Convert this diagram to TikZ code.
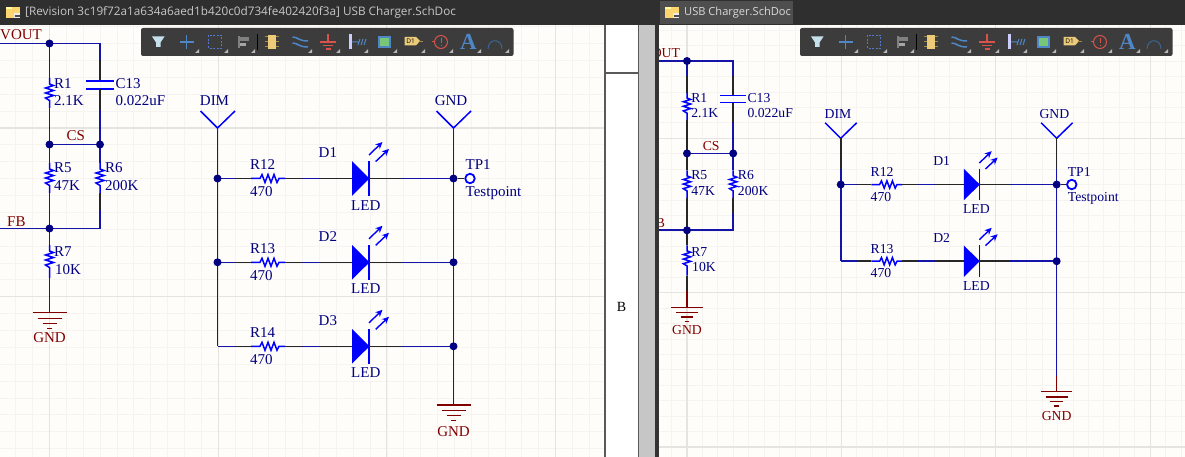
\documentclass[tikz,border=0pt]{standalone}
\usepackage{fontspec}
\setmainfont{Liberation Serif}
\newfontfamily\uifont{Open Sans}
\usetikzlibrary{arrows.meta}
\definecolor{paper}{HTML}{FFFDF9}
\definecolor{barbg}{HTML}{2F2F2F}
\definecolor{tabbg}{HTML}{4E4E4E}
\definecolor{toolbg}{HTML}{3C3C3C}
\definecolor{gridmin}{HTML}{F6F4F0}
\definecolor{gridmaj}{HTML}{E6E4E0}
\definecolor{navy}{HTML}{000080}
\definecolor{wirec}{HTML}{1414A8}
\definecolor{compc}{HTML}{0000FF}
\definecolor{netred}{HTML}{800000}
\definecolor{icoblue}{HTML}{4F86C6}
\definecolor{icodash}{HTML}{5577D0}
\definecolor{icored}{HTML}{D9534A}
\definecolor{icoyel}{HTML}{EBCB7A}
\definecolor{icoedge}{HTML}{A8893F}
\newif\ifthirdrow
\tikzset{
  wire/.style={draw=wirec,line width=1.6pt},
  pin/.style={draw=black!85,line width=1.6pt},
  part/.style={draw=compc,line width=1.5pt},
  redpin/.style={draw=netred,line width=1.6pt},
  dot/.style={circle,fill=navy,draw=none,minimum size=8pt,inner sep=0pt},
  des/.style={anchor=base west,inner sep=0,text=navy},
  net/.style={anchor=base west,inner sep=0,text=netred},
  cnet/.style={anchor=base,inner sep=0,text=netred},
  cdes/.style={anchor=base,inner sep=0,text=navy},
  tool/.style={line width=1.1pt},
  ledarrow/.style={draw=compc,line width=1.4pt,-{Stealth[length=7pt,width=6.5pt]}}
}
\newcommand\vres[3]{% x, ytop, ybottom
  \draw[part] (#1,#2) -- (#1,#2+6) -- (#1+4,#2+7.5) -- (#1-4,#2+10) -- (#1+4,#2+12.5)
    -- (#1-4,#2+15) -- (#1+4,#2+17.5) -- (#1-4,#2+20) -- (#1,#2+22.5) -- (#1,#3);}
\newcommand\hres[3]{% y, xleft, xright
  \draw[part] (#2,#1) -- (#2+9,#1) -- (#2+11,#1-4) -- (#2+14,#1+4) -- (#2+17,#1-4)
    -- (#2+20,#1+4) -- (#2+23,#1-4) -- (#2+26,#1+4) -- (#2+28,#1) -- (#3,#1);}
\newcommand\groundsym[3]{% prefix, x, y of top bar
  \draw[draw=netred,line width=1.4pt] (#2-17,#3) -- (#2+17,#3);
  \draw[draw=netred,line width=1.4pt] (#2-12,#3+5.5) -- (#2+12,#3+5.5);
  \draw[draw=netred,line width=1.4pt] (#2-7,#3+10.5) -- (#2+7,#3+10.5);
  \draw[draw=netred,line width=1.4pt] (#2-2.5,#3+15.5) -- (#2+2.5,#3+15.5);}
\newcommand\ledrow[4]{% prefix, y, R name, D name
  \coordinate (#1a) at (217.5,#2);
  \coordinate (#1p) at (235,#2);
  \coordinate (#1q) at (251,#2);
  \coordinate (#1r) at (285,#2);
  \coordinate (#1s) at (302,#2);
  \coordinate (#1t) at (320,#2);
  \coordinate (#1u) at (352,#2);
  \coordinate (#1v) at (369,#2);
  \coordinate (#1w) at (402,#2);
  \coordinate (#1z) at (453.5,#2);
  \draw[wire] (#1a) -- (#1p);
  \draw[pin] (#1p) -- (#1q);
  \hres{#2}{251}{285}
  \draw[pin] (#1r) -- (#1s);
  \draw[wire] (#1s) -- (#1t);
  \draw[pin] (#1t) -- (#1u);
  \fill[compc] (352,#2-17.3) -- (369.5,#2) -- (352,#2+17.3) -- cycle;
  \draw[part] (369,#2-17.3) -- (369,#2+17.3);
  \draw[pin] (#1v) -- (#1w);
  \draw[wire] (#1w) -- (#1z);
  \draw[ledarrow] (369,#2-23.5) -- (382.5,#2-36.5);
  \draw[ledarrow] (375.7,#2-17) -- (389,#2-29.5);
  \node[des] (#1rn) at (250,#2-8.5) {#3};
  \node[des] (#1rv) at (250,#2+18.2) {470};
  \node[des] (#1dn) at (318.5,#2-20.8) {#4};
  \node[des] (#1dv) at (351,#2+31.5) {LED};
}
\newcommand\schem[1]{% prefix
  \foreach \i in {-4,...,40} \draw[gridmin,line width=.8pt] ({49.5+16.87*\i},-40) -- ({49.5+16.87*\i},520);
  \foreach \j in {-7,...,25} \draw[gridmin,line width=.8pt] (-40,{128+16.87*\j}) -- (640,{128+16.87*\j});
  \foreach \i in {0,1,2,3} \draw[gridmaj,line width=1.1pt] ({49.5+168.7*\i},-40) -- ({49.5+168.7*\i},520);
  \foreach \j in {0,1,2} \draw[gridmaj,line width=1.1pt] (-40,{128+168.7*\j}) -- (640,{128+168.7*\j});
  \coordinate (#1vin) at (-20,43.5);
  \coordinate (#1fin) at (-20,228.5);
  \coordinate (#1c0) at (100,43.5);
  \coordinate (#1c1) at (100,60);
  \coordinate (#1c2) at (100,81);
  \coordinate (#1c3) at (100,89);
  \coordinate (#1c4) at (100,110);
  \coordinate (#1r1a) at (49.5,60);
  \coordinate (#1r1b) at (49.5,78);
  \coordinate (#1r1c) at (49.5,108);
  \coordinate (#1r5a) at (49.5,163);
  \coordinate (#1r5b) at (49.5,193);
  \coordinate (#1r6a) at (100,163);
  \coordinate (#1r6b) at (100,193);
  \coordinate (#1r6c) at (100,210);
  \coordinate (#1r6d) at (100,228.5);
  \coordinate (#1r7a) at (49.5,245);
  \coordinate (#1r7b) at (49.5,278);
  \coordinate (#1g1) at (49.5,295);
  \coordinate (#1g2) at (49.5,312.7);
  \coordinate (#1jv) at (49.5,43.5);
  \coordinate (#1jc) at (49.5,144.5);
  \coordinate (#1jd) at (100,144.5);
  \coordinate (#1jf) at (49.5,228.5);
  \draw[wire] (#1vin) -- (#1jv) -- (#1c0) -- (#1c1);
  \draw[wire] (#1jv) -- (#1r1a);
  \draw[pin] (#1r1a) -- (#1r1b);
  \vres{49.5}{78}{108}
  \draw[pin] (#1r1c) -- (#1jc);
  \draw[pin] (#1c1) -- (#1c2);
  \draw[part] (86,81) -- (114,81);
  \draw[part] (86,89) -- (114,89);
  \draw[pin] (#1c3) -- (#1c4);
  \draw[wire] (#1c4) -- (#1jd) -- (#1jc);
  \draw[pin] (#1jc) -- (#1r5a);
  \vres{49.5}{163}{193}
  \draw[pin] (#1r5b) -- (#1jf);
  \draw[wire] (#1jd) -- (#1r6a);
  \vres{100}{163}{193}
  \draw[pin] (#1r6b) -- (#1r6c);
  \draw[wire] (#1r6c) -- (#1r6d) -- (#1jf) -- (#1fin);
  \draw[pin] (#1jf) -- (#1r7a);
  \vres{49.5}{245}{278}
  \draw[pin] (#1r7b) -- (#1g1);
  \draw[redpin] (#1g1) -- (#1g2);
  \node[dot] (#1nv) at (#1jv) {};
  \node[dot] (#1nc) at (#1jc) {};
  \node[dot] (#1nd) at (#1jd) {};
  \node[dot] (#1nf) at (#1jf) {};
  \groundsym{#1}{49.5}{312.7}
  \node[net] (#1tv) at (0,40) {VOUT};
  \node[net] (#1tc) at (66.5,141) {CS};
  \node[net] (#1tf) at (7,226) {FB};
  \node[des] (#1t1) at (54,89) {R1};
  \node[des] (#1t2) at (54,105.7) {2.1K};
  \node[des] (#1t3) at (115.5,89) {C13};
  \node[des] (#1t4) at (115.5,105.7) {0.022uF};
  \node[des] (#1t5) at (54,172.7) {R5};
  \node[des] (#1t6) at (54,190) {47K};
  \node[des] (#1t7) at (105,172.7) {R6};
  \node[des] (#1t8) at (105,190) {200K};
  \node[des] (#1t9) at (54,256.7) {R7};
  \node[des] (#1t10) at (55,274) {10K};
  \node[cnet] (#1t11) at (49.5,342.7) {GND};
  \ledrow{#1ra}{178.5}{R12}{D1}
  \ledrow{#1rb}{262.3}{R13}{D2}
  \ifthirdrow\ledrow{#1rc}{346.3}{R14}{D3}\fi
  \coordinate (#1dimt) at (217.5,128);
  \coordinate (#1dimm) at (217.5,161);
  \coordinate (#1dl) at (200.5,111);
  \coordinate (#1dr) at (235,111);
  \coordinate (#1gndt) at (453.5,128);
  \coordinate (#1gndm) at (453.5,161);
  \coordinate (#1gl) at (436.5,111);
  \coordinate (#1gr) at (471,111);
  \coordinate (#1gb) at (453.5,388);
  \coordinate (#1gc) at (453.5,405);
  \draw[part] (#1dl) -- (#1dimt) -- (#1dr);
  \draw[part] (#1gl) -- (#1gndt) -- (#1gr);
  \draw[pin] (#1dimt) -- (#1dimm);
  \draw[pin] (#1gndt) -- (#1gndm);
  \ifthirdrow
    \draw[wire] (#1dimm) -- (#1rca);
  \else
    \draw[wire] (#1dimm) -- (#1rba);
  \fi
  \draw[wire] (#1gndm) -- (#1gb);
  \draw[redpin] (#1gb) -- (#1gc);
  \groundsym{#1}{453.5}{405}
  \node[circle,draw=compc,line width=1.8pt,minimum size=9.5pt,inner sep=0pt,fill=paper] (#1tp) at (470,178.5) {};
  \node[dot] (#1ja) at (#1raa) {};
  \node[dot] (#1jz) at (#1raz) {};
  \ifthirdrow\node[dot] (#1jb) at (#1rba) {};\fi
  \node[dot] (#1jy) at (#1rbz) {};
  \ifthirdrow\node[dot] (#1jx) at (#1rcz) {};\fi
  \draw[pin] (#1jz) -- (#1tp);
  \node[cdes] (#1ndim) at (214.5,106) {DIM};
  \node[cdes] (#1ngnd) at (451,106) {GND};
  \node[des] (#1ntp) at (465.5,170) {TP1};
  \node[des] (#1ntv) at (465.5,196.7) {Testpoint};
  \node[cnet] (#1ngb) at (453.5,436) {GND};
}
\newcommand\toolbar[1]{%
 \begin{scope}[xshift=#1pt]
  \fill[toolbg,rounded corners=2pt] (141,28) rectangle (513.5,56);
  % funnel
  \fill[cyan!20!white!85!gray] (152,36.5) -- (164.5,36.5) -- (160.5,42.5) -- (160.5,47) -- (156,47) -- (156,42.5) -- cycle;
  % crosshair
  \draw[tool,draw=icoblue] (186.5,35) -- (186.5,49) (179.5,42) -- (193.5,42);
  % dashed box
  \draw[tool,draw=icodash,dash pattern=on 2pt off 1.5pt] (208.5,35.5) rectangle (221.5,48.5);
  % align
  \fill[gray] (237.5,36) rectangle (239.5,48.5);
  \fill[gray] (240,37.5) rectangle (249,41.5);
  \fill[gray!70] (240,43) rectangle (246,46.5);
  \draw[black,line width=1pt] (257.5,34) -- (257.5,50);
  % component
  \draw[line width=1pt,draw=icoedge] (265,37) -- (279,37) (265,42) -- (279,42) (265,47) -- (279,47);
  \fill[icoyel] (268,35) rectangle (276,49);
  % bus
  \draw[line width=1.5pt,draw=icoblue] (292.5,37) .. controls (298,37) and (298,41) .. (308,41);
  \draw[line width=1.5pt,draw=icoblue] (292.5,43) .. controls (298,43) and (298,47) .. (308,47);
  % ground
  \draw[tool,draw=icored] (328,34) -- (328,42) (320,42) -- (336,42) (323,45.5) -- (333,45.5) (325.5,49) -- (330.5,49);
  % pin
  \fill[blue!20!white] (348.5,34.5) rectangle (352,49);
  \draw[line width=1pt,draw=icoblue] (352,42) -- (358,42) (358,45) -- (360,39) (361,45) -- (363,39) (364,45) -- (366,39);
  % sheet
  \fill[green!40!gray!75!white] (379,37) rectangle (390,47);
  \draw[line width=1.2pt,draw=icoblue] (379,37) rectangle (390,47);
  % port
  \fill[icoyel] (404.5,37) -- (416,37) -- (420,41) -- (416,45.5) -- (404.5,45.5) -- cycle;
  \draw[line width=.8pt,draw=icoedge] (419,41) -- (423,41);
  \node[inner sep=0,text=black] (tb#1) at (410.5,41.3) {\uifont\fontsize{6.5}{6.5}\selectfont D1};
  % probe
  \draw[line width=1pt,draw=icored] (441,42) circle (6.5pt);
  \draw[line width=1pt,draw=icored] (432,42) -- (434.5,42);
  \draw[line width=1pt,draw=icored] (441,38.5) -- (441,43.5) (441,45) -- (441,46);
  % A
  \node[inner sep=0,text=icoblue] (tba#1) at (468.5,42) {\fontsize{23}{23}\selectfont\bfseries A};
  % arc
  \draw[line width=1pt,draw=icoblue!75!black] (488,49) .. controls (488,38) and (502,38) .. (502,49);
  % corner marks
  \foreach \x in {199,228,255,312,340,368,397,425,453,481,509}
    \fill[gray!55] (\x,49) -- (\x,53) -- (\x-4,53) -- cycle;
 \end{scope}}
\newcommand\tabicon[1]{%
  \fill[yellow!45!orange!55!white] (#1,7) rectangle (#1+14,18);
  \fill[yellow!35!white] (#1,7) rectangle (#1+6,9);
  \fill[white!85!gray] (#1+8,13.5) rectangle (#1+14,18);
  \draw[draw=black!70,line width=.4pt] (#1+8.5,15) -- (#1+13.5,15) (#1+8.5,16.5) -- (#1+13.5,16.5);}
\begin{document}
\begin{tikzpicture}[x=1pt,y=-1pt,line cap=butt]
\useasboundingbox (0,0) rectangle (1185,457);
\fill[paper] (0,0) rectangle (1185,457);
\begin{scope}
  \clip (0,25) rectangle (605,457);
  \begin{scope}[x=1pt,y=-1pt]
    \fontsize{15}{17}\selectfont
    \thirdrowtrue
    \schem{L}
  \end{scope}
\end{scope}
\begin{scope}
  \clip (659,25) rectangle (1185,457);
  \begin{scope}[x=.915pt,y=-.915pt,shift={(641.7pt,-21.2pt)}]
    \fontsize{13.7}{15}\selectfont
    \thirdrowfalse
    \schem{Q}
  \end{scope}
\end{scope}
\fill[white] (605,25) rectangle (639,457);
\coordinate (bl) at (605,25);
\coordinate (bb) at (605,457);
\coordinate (cl) at (638.5,25);
\coordinate (cb) at (638.5,457);
\coordinate (hl) at (605,73);
\coordinate (hr) at (638.5,73);
\draw[black!65,line width=1.2pt] (bl) -- (bb);
\draw[black!65,line width=1.2pt] (cl) -- (cb);
\draw[black!65,line width=1.2pt] (hl) -- (hr);
\fill[gray!45] (639,25) rectangle (655,457);
\fill[black!80] (655,25) rectangle (659,457);
\node[inner sep=0,text=black] (zone) at (621.5,307) {\fontsize{14}{16}\selectfont B};
\fill[barbg] (0,0) rectangle (1185,25);
\fill[tabbg] (660,1) rectangle (793,24.5);
\tabicon{6}
\tabicon{665}
\node[anchor=west,inner sep=0,text=white!78!black] (ltab) at (25,12.3) {\uifont\fontsize{11.75}{14}\selectfont [Revision 3c19f72a1a634a6aed1b420c0d734fe402420f3a] USB Charger.SchDoc};
\node[anchor=west,inner sep=0,text=white!85!black] (rtab) at (684,12.3) {\uifont\fontsize{11.1}{14}\selectfont USB Charger.SchDoc};
\toolbar{0}
\toolbar{659}
\end{tikzpicture}
\end{document}
